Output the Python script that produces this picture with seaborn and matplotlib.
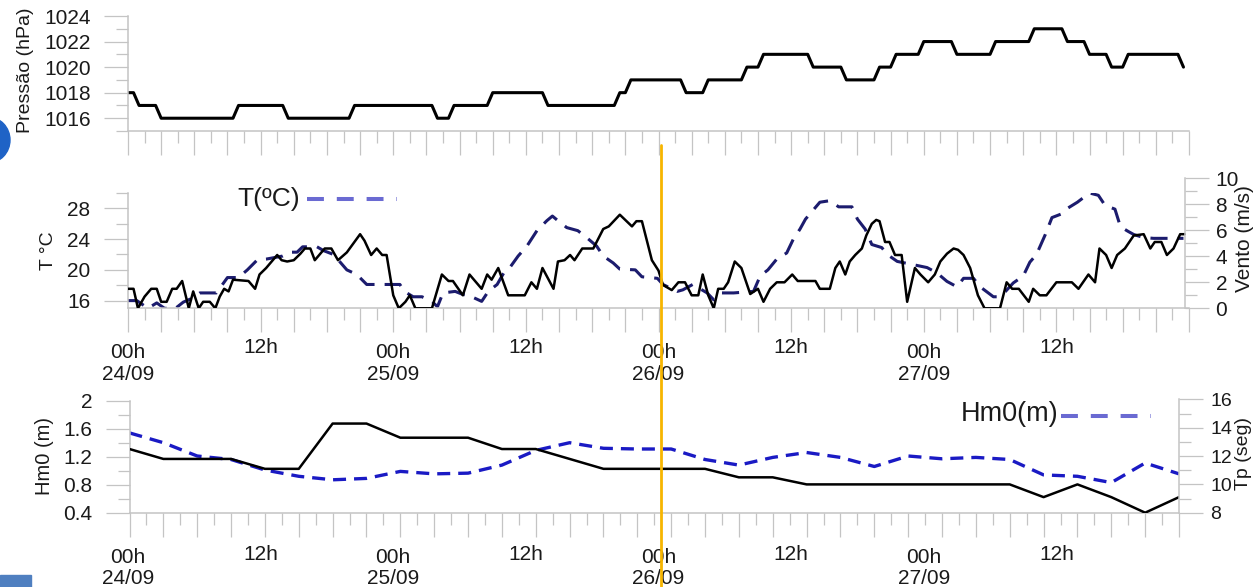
"""
Pressure, temperature / wind and wave height / period, 24-27/09.
"""

# SECTION - LIBRARIES
import matplotlib
matplotlib.use("Agg")
import matplotlib.pyplot as plt
import matplotlib.transforms as mtransforms
from matplotlib.lines import Line2D
from matplotlib.patches import Ellipse, Rectangle
from matplotlib.ticker import MultipleLocator
import seaborn as sns

# !SECTION

# SECTION - DATA
# hours counted from 00h 24/09
pres_hours = [0, 0.5, 1, 2.5, 3, 9.5, 10, 14, 14.5, 20,
              20.5, 27.5, 28, 29, 29.5, 32.5, 33, 37.5, 38, 44,
              44.5, 45, 45.5, 50, 50.5, 52, 52.5, 55.5, 56, 57,
              57.5, 61.5, 62, 64.5, 65, 67.5, 68, 69, 69.5, 71.5,
              72, 74.5, 75, 78, 78.5, 81.5, 82, 84.5, 85, 86.5,
              87, 88.5, 89, 90, 90.5, 95, 95.5]
pres_hpa = [1018, 1018, 1017, 1017, 1016, 1016, 1017, 1017, 1016, 1016,
            1017, 1017, 1016, 1016, 1017, 1017, 1018, 1018, 1017, 1017,
            1018, 1018, 1019, 1019, 1018, 1018, 1019, 1019, 1020, 1020,
            1021, 1021, 1020, 1020, 1019, 1019, 1020, 1020, 1021, 1021,
            1022, 1022, 1021, 1021, 1022, 1022, 1023, 1023, 1022, 1022,
            1021, 1021, 1020, 1020, 1021, 1021, 1020]

temp_hours = [0, 0.8, 1.8, 2.6, 3.3, 4.3, 5.0, 5.8, 6.5, 8.0,
              9.0, 10.0, 10.8, 11.7, 12.5, 14.0, 14.7, 15.3, 15.8, 17.1,
              17.7, 18.6, 19.8, 20.7, 21.6, 24.6, 25.0, 25.8, 26.6, 27.5,
              28.0, 28.5, 29.6, 30.3, 30.8, 32.0, 32.6, 33.4, 34.0, 34.6,
              35.3, 36.1, 37.0, 37.9, 38.4, 38.9, 39.7, 40.7, 41.5, 42.4,
              43.0, 43.9, 44.5, 45.9, 46.5, 47.9, 48.4, 49.7, 50.2, 51.1,
              52.4, 53.0, 53.7, 54.8, 56.6, 57.2, 57.9, 58.7, 59.6, 60.2,
              60.8, 61.3, 62.6, 63.5, 64.3, 65.5, 66.0, 66.7, 67.3, 68.2,
              68.7, 69.6, 71.3, 72.3, 73.2, 74.1, 75.0, 75.6, 76.5, 77.1,
              78.3, 78.6, 79.4, 80.1, 81.0, 81.6, 82.2, 83.0, 83.6, 84.5,
              85.0, 85.9, 87.0, 87.8, 88.4, 89.3, 89.8, 90.5, 91.0, 91.9,
              92.8, 95.5]
temp_c = [16.0, 16.0, 15.0, 15.7, 15.0, 15.0, 15.8, 16.3, 17.0, 17.0,
          19.0, 19.0, 20.0, 21.3, 21.4, 21.8, 22.3, 22.3, 23.0, 23.0,
          22.5, 22.0, 20.0, 19.4, 18.1, 18.1, 17.2, 16.5, 16.5, 15.9,
          15.2, 17.0, 17.2, 16.8, 16.7, 15.9, 17.2, 18.1, 19.6, 20.4,
          21.8, 23.1, 25.1, 26.4, 27.0, 26.4, 25.5, 25.1, 24.2, 23.1,
          21.8, 20.9, 20.1, 20.0, 19.1, 18.9, 18.1, 17.2, 17.4, 18.1,
          17.0, 16.1, 17.0, 17.0, 17.2, 19.2, 20.0, 21.4, 22.2, 24.0,
          25.3, 26.6, 28.8, 29.0, 28.2, 28.2, 26.6, 25.3, 23.3, 22.9,
          22.0, 21.1, 20.6, 20.3, 19.6, 18.5, 17.8, 18.9, 18.9, 17.8,
          16.5, 16.5, 17.2, 18.3, 19.2, 21.0, 22.0, 24.6, 26.8, 27.3,
          28.0, 28.8, 30.0, 29.7, 28.4, 27.9, 25.6, 25.0, 24.6, 24.2,
          24.1, 24.1]

wind_hours = [0, 0.5, 0.9, 1.5, 2.1, 2.6, 3.0, 3.5, 4.0, 4.4,
              4.9, 5.5, 5.9, 6.4, 6.8, 7.4, 7.9, 8.3, 8.7, 9.1,
              9.5, 10.9, 11.5, 11.9, 12.5, 13.0, 13.5, 13.9, 14.4, 15.0,
              15.6, 16.0, 16.5, 16.9, 17.4, 17.8, 18.4, 19.0, 19.8, 21.0,
              21.4, 22.0, 22.5, 23.0, 23.4, 24.0, 24.5, 25.1, 25.5, 26.0,
              27.5, 28.4, 29.0, 29.4, 30.3, 30.9, 32.0, 32.5, 32.9, 33.5,
              34.4, 35.9, 36.5, 37.0, 37.5, 38.5, 38.9, 39.5, 40.0, 40.4,
              41.1, 42.1, 43.0, 43.5, 44.5, 45.6, 46.0, 46.5, 47.4, 48.0,
              48.4, 49.2, 49.8, 50.4, 51.0, 51.6, 52.0, 52.5, 53.0, 53.4,
              53.9, 54.3, 54.9, 55.5, 56.3, 57.0, 57.5, 58.1, 58.7, 59.4,
              60.1, 60.6, 62.2, 62.6, 63.5, 64.0, 64.4, 64.9, 65.3, 65.8,
              66.4, 66.8, 67.3, 67.7, 68.0, 68.5, 68.9, 69.4, 70.0, 70.5,
              71.2, 71.7, 72.4, 73.0, 73.5, 74.1, 74.7, 75.1, 75.6, 76.2,
              76.9, 77.5, 78.9, 79.5, 80.0, 80.6, 81.5, 81.9, 82.5, 83.1,
              84.0, 85.4, 86.0, 86.9, 87.5, 87.9, 88.5, 89.0, 89.5, 90.2,
              91.0, 91.9, 92.5, 92.9, 93.5, 94.0, 94.6, 95.2, 95.6]
wind_ms = [1.5, 1.5, 0, 0.9, 1.5, 1.5, 0.5, 0.5, 1.5, 1.5,
           2.1, 0, 1.3, 0, 0.5, 0.5, 0, 0.9, 1.5, 1.3,
           2.2, 2.1, 1.5, 2.6, 3.1, 3.6, 4.1, 3.7, 3.6, 3.7,
           4.2, 4.6, 4.6, 3.7, 4.2, 4.6, 4.6, 3.7, 4.3, 5.7,
           5.2, 4.1, 4.6, 4.1, 4.1, 1.0, 0, 0.5, 1.0, 0,
           0, 2.6, 2.1, 2.1, 1.0, 2.6, 1.5, 2.6, 2.2, 3.1,
           1.0, 1.0, 2.0, 1.5, 3.1, 1.5, 3.6, 3.7, 4.1, 3.7,
           4.6, 4.6, 6.1, 6.3, 7.2, 6.3, 6.7, 6.7, 3.7, 2.9,
           1.8, 1.4, 2.0, 2.0, 1.0, 1.0, 2.6, 1.0, 0, 1.5,
           1.5, 2.0, 3.6, 3.1, 1.1, 1.5, 0.5, 1.5, 2.0, 2.0,
           2.6, 2.1, 2.1, 1.5, 1.5, 3.1, 3.6, 2.6, 3.6, 4.1,
           4.6, 5.6, 6.5, 6.8, 6.7, 5.1, 5.1, 4.1, 4.1, 0.5,
           3.1, 2.6, 2.0, 2.6, 3.6, 4.2, 4.6, 4.5, 4.1, 3.1,
           1.0, 0, 0, 2.0, 1.5, 1.5, 0.5, 1.5, 1.0, 1.0,
           2.0, 2.0, 1.5, 2.6, 2.0, 4.6, 4.1, 3.1, 4.1, 4.6,
           5.6, 5.7, 4.6, 5.1, 5.1, 4.1, 4.6, 5.7, 5.7]

wave_hours = [0, 3, 6, 9, 12, 15, 18, 21, 24, 27,
              30, 33, 36, 39, 42, 45, 48, 51, 54, 57,
              60, 63, 66, 69, 72, 75, 78, 81, 84, 87,
              90, 93]
hm0_m = [1.54, 1.40, 1.21, 1.16, 1.01, 0.92, 0.87, 0.89, 0.99, 0.955,
         0.965, 1.08, 1.29, 1.40, 1.32, 1.31, 1.31, 1.16, 1.08, 1.19,
         1.26, 1.19, 1.06, 1.21, 1.17, 1.19, 1.16, 0.94, 0.92, 0.83,
         1.11, 0.955]

tp_hours = [0, 3, 9, 12, 15, 18, 21, 24, 30, 33,
            36, 42, 51, 54, 57, 60, 78, 81, 84, 87,
            90, 93]
tp_s = [12.5, 11.8, 11.8, 11.1, 11.1, 14.3, 14.3, 13.3, 13.3, 12.5,
        12.5, 11.1, 11.1, 10.5, 10.5, 10.0, 10.0, 9.1, 10.0, 9.1,
        8.0, 9.1]

label_hours = [0, 12, 24, 36, 48, 60, 72, 84]
label_text = ["00h\n24/09", "12h", "00h\n25/09", "12h",
              "00h\n26/09", "12h", "00h\n27/09", "12h"]

# !SECTION

# SECTION - CONFIG
sns.set_style("white")
plt.rcParams["font.family"] = ["Liberation Sans", "DejaVu Sans"]

W, H = 1255, 587
GREY = "#c4c4c4"
TXT = "#1a1a1a"


def px_box(x0, y0, x1, y1):
    """Pixel box (origin top-left) -> [left, bottom, width, height]."""
    return [x0 / W, 1 - y1 / H, (x1 - x0) / W, (y1 - y0) / H]


def style(ax, spines, side="left", pad=10, labelsize=15):
    for s in ("left", "right", "top", "bottom"):
        ax.spines[s].set_visible(s in spines)
        ax.spines[s].set_color(GREY)
        ax.spines[s].set_linewidth(1.1)
    ax.patch.set_alpha(0)
    ax.tick_params(which="major", length=17, width=0.9, color=GREY,
                   labelsize=labelsize, labelcolor=TXT)
    ax.tick_params(which="minor", length=8.5, width=0.9, color=GREY)
    ax.yaxis.set_ticks_position(side)
    ax.yaxis.set_label_position(side)
    ax.tick_params(axis="y", which="major", pad=pad)


def time_axis(ax, xmax):
    ax.set_xlim(0, xmax)
    ax.xaxis.set_major_locator(MultipleLocator(3))
    ax.xaxis.set_minor_locator(MultipleLocator(1.5))
    ax.tick_params(axis="x", which="both", bottom=True, top=False,
                   labelbottom=False)


# !SECTION

# SECTION - MAIN
if __name__ == "__main__":
    fig = plt.figure(figsize=(W / 100, H / 100), dpi=100)

    ax_p = fig.add_axes(px_box(128, 16, 1189, 131))
    ax_t = fig.add_axes(px_box(128, 193, 1189, 308.3))
    ax_w = fig.add_axes(px_box(128, 178.3, 1189, 308.3))
    ax_h = fig.add_axes(px_box(129.5, 400.7, 1179, 512.7))
    ax_tp = fig.add_axes(px_box(129.5, 399.5, 1179, 512.7))

    # Pressure
    sns.lineplot(x=pres_hours, y=pres_hpa, ax=ax_p, color="black",
                 linewidth=2.2, estimator=None, sort=False)
    style(ax_p, ["left", "bottom"])
    time_axis(ax_p, 96)
    ax_p.set_ylim(1015, 1024)
    ax_p.set_yticks([1016, 1018, 1020, 1022, 1024])
    ax_p.yaxis.set_minor_locator(MultipleLocator(1))
    ax_p.set_ylabel("Pressão (hPa)", fontsize=14, color=TXT)
    ax_p.yaxis.set_label_coords(-0.089, 0.53)

    # Temperature (left) and wind (right)
    sns.lineplot(x=temp_hours, y=temp_c, ax=ax_t, color="#1c1c6e",
                 linewidth=2.2, linestyle=(0, (5.6, 3.3)),
                 estimator=None, sort=False)
    style(ax_t, ["left", "bottom"])
    time_axis(ax_t, 96)
    ax_t.set_ylim(15, 30)
    ax_t.set_yticks([16, 20, 24, 28])
    ax_t.yaxis.set_minor_locator(MultipleLocator(2))
    ax_t.set_ylabel("T °C", fontsize=14, color=TXT)
    ax_t.yaxis.set_label_coords(-0.067, 0.5)

    sns.lineplot(x=wind_hours, y=wind_ms, ax=ax_w, color="black",
                 linewidth=1.8, estimator=None, sort=False)
    style(ax_w, ["right"], side="right", pad=5)
    ax_w.set_xlim(0, 96)
    ax_w.spines["right"].set_position(("axes", 0.9962))
    ax_w.tick_params(axis="x", which="both", bottom=False, labelbottom=False)
    ax_w.set_ylim(0, 10)
    ax_w.set_yticks([0, 2, 4, 6, 8, 10])
    ax_w.yaxis.set_minor_locator(MultipleLocator(1))
    ax_w.set_ylabel("Vento (m/s)", fontsize=15, color=TXT)
    ax_w.yaxis.set_label_coords(1.0435, 0.537)

    # Wave height (left) and peak period (right)
    sns.lineplot(x=wave_hours, y=hm0_m, ax=ax_h, color="#1a1ac4",
                 linewidth=2.4, linestyle=(0, (3.9, 2.4)),
                 estimator=None, sort=False)
    style(ax_h, ["left", "bottom"])
    time_axis(ax_h, 93)
    ax_h.set_ylim(0.4, 2.0)
    ax_h.set_yticks([0.4, 0.8, 1.2, 1.6, 2.0])
    ax_h.set_yticklabels(["0.4", "0.8", "1.2", "1.6", "2"])
    ax_h.yaxis.set_minor_locator(MultipleLocator(0.2))
    ax_h.set_ylabel("Hm0 (m)", fontsize=14.5, color=TXT)
    ax_h.yaxis.set_label_coords(-0.072, 0.506)

    sns.lineplot(x=tp_hours, y=tp_s, ax=ax_tp, color="black",
                 linewidth=1.8, estimator=None, sort=False)
    style(ax_tp, ["right"], side="right", pad=5.5, labelsize=14)
    ax_tp.set_xlim(0, 93)
    ax_tp.tick_params(axis="x", which="both", bottom=False, labelbottom=False)
    ax_tp.set_ylim(8, 16)
    ax_tp.set_yticks([8, 10, 12, 14, 16])
    ax_tp.yaxis.set_minor_locator(MultipleLocator(1))
    ax_tp.set_ylabel("Tp (seg)", fontsize=14, color=TXT)
    ax_tp.yaxis.set_label_coords(1.0535, 0.525)

    # Time labels (same positions on middle and bottom panels)
    for ax_y, dy12, dy00 in ((ax_t, 30, 35), (ax_h, 32, 35)):
        base = mtransforms.blended_transform_factory(ax_t.transData,
                                                     ax_y.transAxes)
        for h, lab in zip(label_hours, label_text):
            dy = dy00 if "\n" in lab else dy12
            tr = base + mtransforms.ScaledTranslation(0, -dy / 100,
                                                      fig.dpi_scale_trans)
            ax_y.text(h, 0, lab, transform=tr, ha="center", va="top",
                      fontsize=15, color=TXT, linespacing=1.15,
                      multialignment="center")

    # Legend-like labels
    fig.text(300 / W, 1 - 199 / H, "T(ºC)", ha="right", va="center",
             fontsize=19, color=TXT)
    fig.add_artist(Line2D([307 / W, 397 / W], [1 - 199 / H] * 2,
                          color="#6a6ad2", linewidth=2.9,
                          linestyle=(0, (4.2, 3.2))))
    fig.text(1058 / W, 1 - 414 / H, "Hm0(m)", ha="right", va="center",
             fontsize=19.5, color=TXT)
    fig.add_artist(Line2D([1061 / W, 1151 / W], [1 - 416 / H] * 2,
                          color="#6a6ad2", linewidth=2.9,
                          linestyle=(0, (4.2, 3.2))))

    # Reference time marker
    fig.add_artist(Line2D([661 / W] * 2, [1 - 145 / H, 0],
                          color="#f7b500", linewidth=2, zorder=5))

    # Slide remnants at the left edge
    fig.add_artist(Ellipse((-12 / W, 1 - 140 / H), 44 / W, 46 / H,
                           color="#1f63c6"))
    fig.add_artist(Rectangle((0, 0), 31 / W, 12 / H, color="#4f7fc0"))

    fig.savefig("out.png", dpi=100)

# !SECTION
